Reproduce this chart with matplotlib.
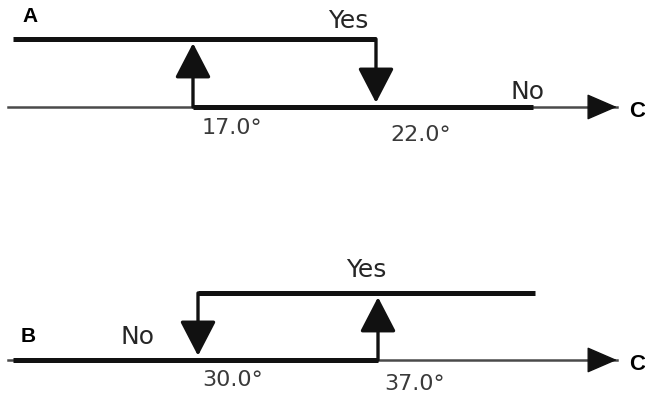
import matplotlib
matplotlib.use('Agg')
import matplotlib.pyplot as plt

# switching thresholds (degrees) for the two panels
a_thresholds = [17.0, 22.0]   # A: turns on at 17, off at 22
b_thresholds = [30.0, 37.0]   # B: turns off at 30, on at 37
threshold_labels_a = ['17.0°', '22.0°']
threshold_labels_b = ['30.0°', '37.0°']

# extent of each state line and of the C axis (degrees)
a_yes_span = [12.08, 22.0]
a_no_span = [17.0, 26.29]
a_axis_span = [11.95, 28.58]
b_no_span = [22.81, 37.0]
b_yes_span = [30.0, 43.11]
b_axis_span = [22.61, 46.29]

NO, YES = 0, 1

ink = '#111111'
txt = '#262626'
PX = 0.72  # pixels -> points at dpi 100

fig = plt.figure(figsize=(6.45, 4.06), dpi=100)
ax_a = fig.add_axes([0, 0, 1, 1])
ax_b = fig.add_axes([0, 0, 1, 1])
for ax in (ax_a, ax_b):
    ax.axis('off')
    ax.set_facecolor('none')
ax_a.set_xlim(11.727, 29.350)
ax_a.set_ylim(-4.382, 1.588)
ax_b.set_xlim(22.300, 47.383)
ax_b.set_ylim(-0.672, 5.388)

thick = dict(color=ink, lw=3.6, solid_capstyle='butt')
head = '-|>,head_length=1.08,head_width=0.56'
axis_head = '-|>,head_length=0.97,head_width=0.42'


def arrow(ax, x, y0, y1):
    ax.annotate('', xy=(x, y1), xytext=(x, y0),
                arrowprops=dict(arrowstyle=head, mutation_scale=20, lw=2.4,
                                color=ink, shrinkA=0, shrinkB=3))


def c_axis(ax, span):
    ax.plot(span, [NO, NO], color='#4a4a4a', lw=1.8)
    ax.annotate('', xy=(span[1], NO), xytext=(span[1] - 0.5, NO),
                arrowprops=dict(arrowstyle=axis_head, mutation_scale=20, lw=1.0,
                                color=ink, shrinkA=0, shrinkB=0))
    ax.annotate('C', xy=(span[1], NO), xytext=(20 * PX, -4 * PX),
                textcoords='offset points', ha='center', va='center',
                fontsize=16, fontweight='bold', family='Liberation Sans', color='black')


def temp_labels(ax, temps, labels, offsets):
    for t, lab, (dx, dy) in zip(temps, labels, offsets):
        ax.annotate(lab, xy=(t, NO), xytext=(dx * PX, dy * PX),
                    textcoords='offset points', ha='center', va='center',
                    fontsize=16, color='#3a3a3a')


def state_label(ax, s, x, y, dx, dy):
    ax.annotate(s, xy=(x, y), xytext=(dx * PX, dy * PX),
                textcoords='offset points', ha='center', va='center',
                fontsize=18, color=txt)


# panel A
c_axis(ax_a, a_axis_span)
ax_a.plot(a_yes_span, [YES, YES], **thick)
ax_a.plot(a_no_span, [NO, NO], **thick)
arrow(ax_a, a_thresholds[0], NO, YES)
arrow(ax_a, a_thresholds[1], YES, NO)
temp_labels(ax_a, a_thresholds, threshold_labels_a, [(39, -20), (45, -27)])
state_label(ax_a, 'Yes', a_thresholds[1], YES, -28, 19)
state_label(ax_a, 'No', a_no_span[1], NO, -6, 16)

# panel B
c_axis(ax_b, b_axis_span)
ax_b.plot(b_no_span, [NO, NO], **thick)
ax_b.plot(b_yes_span, [YES, YES], **thick)
arrow(ax_b, b_thresholds[0], YES, NO)
arrow(ax_b, b_thresholds[1], NO, YES)
temp_labels(ax_b, b_thresholds, threshold_labels_b, [(35, -19), (37, -23)])
state_label(ax_b, 'Yes', b_thresholds[1], YES, -12, 24)
state_label(ax_b, 'No', b_thresholds[0], NO, -61, 24)

fig.text(30 / 645, 1 - 17 / 406, 'A', ha='center', va='center', fontsize=15,
         fontweight='bold', family='Liberation Sans')
fig.text(28 / 645, 1 - 337 / 406, 'B', ha='center', va='center', fontsize=15,
         fontweight='bold', family='Liberation Sans')

fig.savefig('out.png', dpi=100)
